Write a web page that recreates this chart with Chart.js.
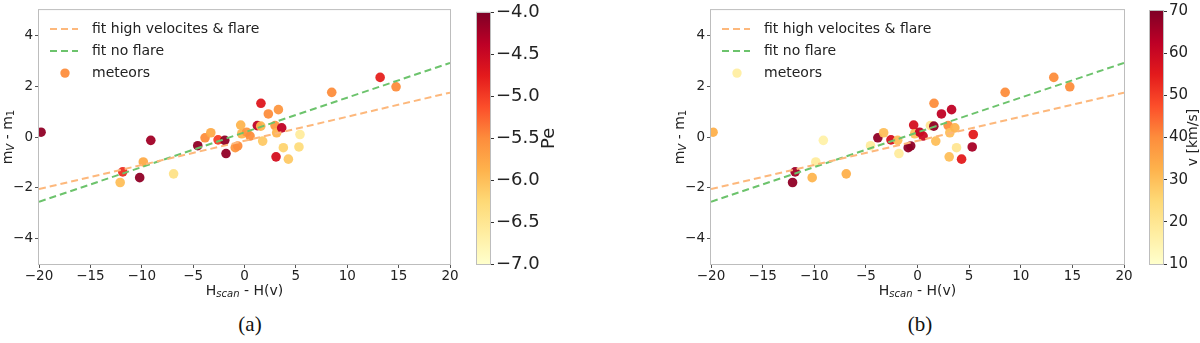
<!DOCTYPE html>
<html>
<head>
<meta charset="utf-8">
<script src="https://cdn.jsdelivr.net/npm/chart.js@4"></script>
<style>
  body { margin: 0; background: #fff; width: 1200px; height: 343px; position: relative; overflow: hidden; }
  .box { position: absolute; top: 0; height: 300px; }
  .cap { position: absolute; top: 312px; width: 60px; margin-left: -30px; text-align: center;
         font: 21px 'Liberation Serif', serif; color: #111; }
</style>
</head>
<body>
<div class="box" style="left:0;width:470px"><canvas id="scatter-a"></canvas></div>
<div class="box" style="left:470px;width:130px"><canvas id="cbar-a"></canvas></div>
<div class="box" style="left:672px;width:472px"><canvas id="scatter-b"></canvas></div>
<div class="box" style="left:1143px;width:57px"><canvas id="cbar-b"></canvas></div>
<div class="cap" style="left:250px">(a)</div>
<div class="cap" style="left:920px">(b)</div>

<script>
// meteors: H_scan - H(v), m_V - m_1, Pe and velocity
const hScan = [-19.8, -11.85, -12.1, -9.85, -10.2, -9.12, -6.9, -4.55, -3.84, -3.28, -2.57, -1.92,
               -1.8, -0.9, -0.66, -0.37, -0.27, 0.21, 0.54, 1.25, 1.6, 1.58, 1.77, 2.32,
               3.3, 2.97, 3.13, 3.62, 3.07, 3.78, 4.27, 5.4, 5.3, 8.49, 13.2, 14.75];
const dMag = [0.19, -1.37, -1.79, -0.98, -1.6, -0.13, -1.45, -0.34, -0.03, 0.17, -0.11, -0.13,
              -0.65, -0.42, -0.35, 0.47, 0.13, 0.19, 0.04, 0.45, 1.33, 0.43, -0.16, 0.91,
              1.08, 0.45, 0.17, 0.36, -0.78, -0.42, -0.87, 0.1, -0.39, 1.76, 2.35, 1.98];
const pe = [-4.1, -4.9, -6.0, -5.8, -4.1, -4.2, -6.4, -4.1, -5.5, -5.8, -5.0, -4.1,
            -4.1, -5.6, -5.5, -5.9, -5.9, -5.6, -5.5, -4.4, -4.7, -5.9, -6.1, -5.5,
            -5.6, -5.6, -5.9, -4.4, -4.6, -6.2, -6.1, -6.6, -6.3, -5.5, -4.8, -5.5];
const vel = [33, 66, 68, 18, 32, 16, 33, 18, 68, 30, 58, 30,
             18, 68, 68, 58, 30, 62, 60, 20, 40, 68, 30, 62,
             62, 40, 30, 32, 30, 20, 55, 55, 65, 40, 40, 40];

// fitted lines (end points)
const fitX = [-20, 20];
const fitHigh = [-2.05, 1.75];
const fitNoFlare = [-2.55, 2.92];

const xTicks = [-20, -15, -10, -5, 0, 5, 10, 15, 20];
const yTicks = [-4, -2, 0, 2, 4];
const peRange = [-7, -4];
const peTicks = [-7, -6.5, -6, -5.5, -5, -4.5, -4];
const velRange = [10, 70];
const velTicks = [10, 20, 30, 40, 50, 60, 70];

const FONT = "'DejaVu Sans'";
const ylorrd = [[255,255,204],[255,237,160],[254,217,118],[254,178,76],[253,141,60],
                [252,78,42],[227,26,28],[189,0,38],[128,0,38]];

function cmap(t, alpha) {
    t = Math.min(1, Math.max(0, t));
    const p = t * 8, i = Math.min(7, Math.floor(p)), f = p - i;
    const a = ylorrd[i], b = ylorrd[i + 1];
    const c = a.map((v, k) => Math.round(v + (b[k] - v) * f));
    return 'rgba(' + c.join(',') + ',' + alpha + ')';
}

const minus = s => String(s).replace('-', '\u2212');

function drawRich(ctx, parts, x, y) {
    let w = 0;
    parts.forEach(p => { ctx.font = p.font; w += ctx.measureText(p.text).width; });
    let cx = x - w / 2;
    ctx.textAlign = 'left';
    ctx.textBaseline = 'middle';
    parts.forEach(p => {
        ctx.font = p.font;
        ctx.fillText(p.text, cx, y + (p.dy || 0));
        cx += ctx.measureText(p.text).width;
    });
}

const xTitle = [
    { text: 'H', font: '14px ' + FONT },
    { text: 'scan', font: 'italic 10px ' + FONT, dy: 3 },
    { text: ' - H(v)', font: '14px ' + FONT }
];
const yTitle = [
    { text: 'm', font: '14px ' + FONT },
    { text: 'V', font: 'italic 10px ' + FONT, dy: 3 },
    { text: ' - m', font: '14px ' + FONT },
    { text: '1', font: '10px ' + FONT, dy: 3 }
];

// frame, axis titles and legend of the scatter panels
const decor = {
    id: 'decor',
    afterDraw(chart, args, opts) {
        const { ctx, chartArea: a } = chart;
        ctx.save();
        ctx.strokeStyle = '#bdbdbd';
        ctx.lineWidth = 1;
        ctx.strokeRect(a.left - 0.5, a.top - 0.5, a.right - a.left + 1, a.bottom - a.top + 1);

        ctx.fillStyle = '#222';
        drawRich(ctx, xTitle, (a.left + a.right) / 2, 291);
        ctx.save();
        ctx.translate(a.left - 31, (a.top + a.bottom) / 2);
        ctx.rotate(-Math.PI / 2);
        drawRich(ctx, yTitle, 0, 0);
        ctx.restore();

        chart.data.datasets.forEach((ds, i) => {
            const y = a.top + 19 + i * 22;
            const x0 = a.left + 11;
            if (ds.showLine) {
                ctx.strokeStyle = ds.borderColor;
                ctx.lineWidth = 2;
                ctx.setLineDash([7, 4]);
                ctx.beginPath();
                ctx.moveTo(x0, y);
                ctx.lineTo(x0 + 28, y);
                ctx.stroke();
                ctx.setLineDash([]);
            } else {
                ctx.fillStyle = opts.markerColor;
                ctx.beginPath();
                ctx.arc(x0 + 15, y, 4.7, 0, Math.PI * 2);
                ctx.fill();
            }
            ctx.fillStyle = '#222';
            ctx.font = '14px ' + FONT;
            ctx.textAlign = 'left';
            ctx.textBaseline = 'middle';
            ctx.fillText(ds.label, a.left + 53, y);
        });
        ctx.restore();
    }
};

// frame and rotated title of the colour bars
const cbarDecor = {
    id: 'cbarDecor',
    afterDraw(chart, args, opts) {
        const { ctx, chartArea: a } = chart;
        ctx.save();
        ctx.strokeStyle = '#bdbdbd';
        ctx.lineWidth = 1;
        ctx.strokeRect(a.left - 0.5, a.top - 0.5, a.right - a.left + 1, a.bottom - a.top + 1);
        ctx.fillStyle = '#222';
        ctx.translate(opts.x, (a.top + a.bottom) / 2);
        ctx.rotate(-Math.PI / 2);
        ctx.font = opts.font;
        ctx.textAlign = 'center';
        ctx.textBaseline = 'middle';
        ctx.fillText(opts.title, 0, 0);
        ctx.restore();
    }
};

function scatterPanel(id, values, range, markerColor) {
    const colors = values.map(v => cmap((v - range[0]) / (range[1] - range[0]), 0.95));
    new Chart(document.getElementById(id), {
        type: 'scatter',
        data: {
            datasets: [{
                label: 'fit high velocites & flare',
                data: fitX.map((x, i) => ({ x: x, y: fitHigh[i] })),
                showLine: true,
                borderColor: '#fdb87c',
                borderWidth: 2,
                borderDash: [7, 4],
                pointRadius: 0,
                order: 0
            }, {
                label: 'fit no flare',
                data: fitX.map((x, i) => ({ x: x, y: fitNoFlare[i] })),
                showLine: true,
                borderColor: '#6cc36c',
                borderWidth: 2,
                borderDash: [7, 4],
                pointRadius: 0,
                order: 0
            }, {
                label: 'meteors',
                data: hScan.map((x, i) => ({ x: x, y: dMag[i] })),
                backgroundColor: colors,
                borderWidth: 0,
                pointRadius: 4.8,
                order: 1
            }]
        },
        options: {
            responsive: true,
            maintainAspectRatio: false,
            animation: false,
            layout: { padding: { top: 7, right: 20, left: 0, bottom: 0 } },
            plugins: {
                legend: { display: false },
                tooltip: { enabled: false },
                decor: { markerColor: markerColor }
            },
            scales: {
                x: {
                    type: 'linear',
                    min: -20,
                    max: 20,
                    afterBuildTicks: s => { s.ticks = xTicks.map(v => ({ value: v })); },
                    afterFit: s => { s.height = 36; },
                    grid: { drawOnChartArea: false, tickLength: 4, color: '#555' },
                    border: { display: false },
                    ticks: {
                        autoSkip: false, maxRotation: 0, padding: 0, color: '#222',
                        font: { family: FONT, size: 13.5 },
                        callback: v => minus(v)
                    }
                },
                y: {
                    min: -5,
                    max: 5,
                    afterBuildTicks: s => { s.ticks = yTicks.map(v => ({ value: v })); },
                    afterFit: s => { s.width = 39; },
                    grid: { drawOnChartArea: false, tickLength: 4, color: '#555' },
                    border: { display: false },
                    ticks: {
                        padding: 2, color: '#222',
                        font: { family: FONT, size: 13.5 },
                        callback: v => minus(v)
                    }
                }
            }
        },
        plugins: [decor]
    });
}

function colorBar(id, range, ticks, width, fontSize, digits, title, titleX, titleFont) {
    new Chart(document.getElementById(id), {
        type: 'bar',
        data: {
            labels: [title],
            datasets: [{
                data: [range],
                backgroundColor: ctx => {
                    const a = ctx.chart.chartArea;
                    if (!a) return null;
                    const g = ctx.chart.ctx.createLinearGradient(0, a.bottom, 0, a.top);
                    ylorrd.forEach((c, i) => g.addColorStop(i / 8, 'rgb(' + c.join(',') + ')'));
                    return g;
                },
                barPercentage: 1,
                categoryPercentage: 1,
                borderWidth: 0
            }]
        },
        options: {
            responsive: true,
            maintainAspectRatio: false,
            animation: false,
            layout: { padding: { top: 7, bottom: 36, left: 7, right: 0 } },
            plugins: {
                legend: { display: false },
                tooltip: { enabled: false },
                cbarDecor: { title: title, x: titleX, font: titleFont }
            },
            scales: {
                x: { display: false },
                y: {
                    position: 'right',
                    min: range[0],
                    max: range[1],
                    afterBuildTicks: s => { s.ticks = ticks.map(v => ({ value: v })); },
                    afterFit: s => { s.width = width; },
                    grid: { drawOnChartArea: false, tickLength: 4, color: '#333' },
                    border: { display: false },
                    ticks: {
                        padding: 2, color: '#222',
                        font: { family: FONT, size: fontSize },
                        callback: v => minus(v.toFixed(digits))
                    }
                }
            }
        },
        plugins: [cbarDecor]
    });
}

scatterPanel('scatter-a', pe, peRange, cmap(0.5, 0.95));
colorBar('cbar-a', peRange, peTicks, 110, 18, 1, 'Pe', 79, '18px ' + FONT);
scatterPanel('scatter-b', vel, velRange, cmap(0.12, 0.95));
colorBar('cbar-b', velRange, velTicks, 37, 15, 0, 'v [km/s]', 50, '14px ' + FONT);
</script>
</body>
</html>
